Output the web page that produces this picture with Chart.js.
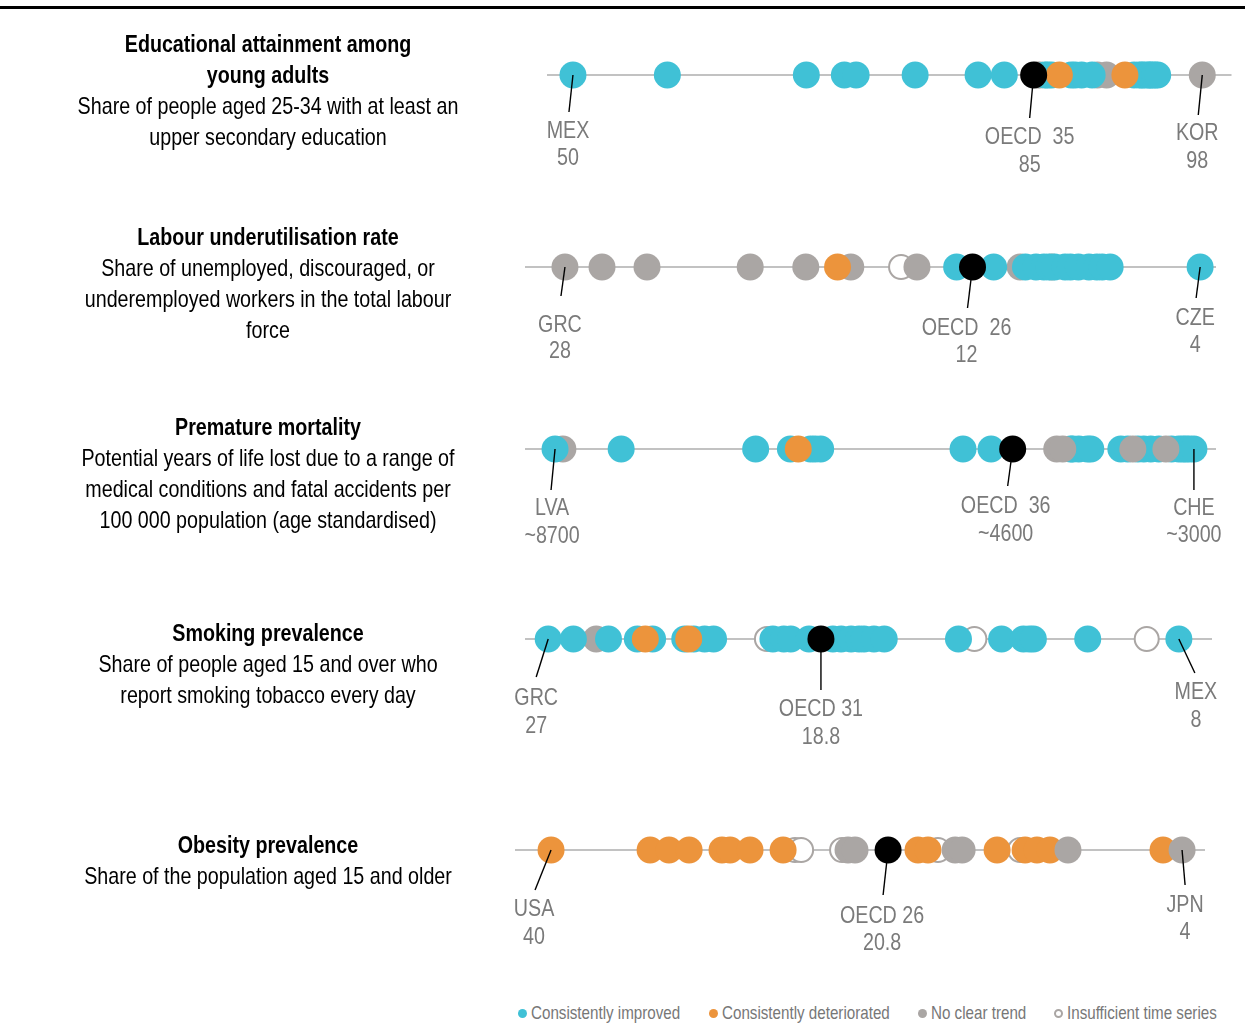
<!DOCTYPE html>
<html>
<head>
<meta charset="utf-8">
<script src="https://cdn.jsdelivr.net/npm/chart.js@4.4.1/dist/chart.umd.min.js"></script>
<style>
  html, body { margin: 0; padding: 0; background: #fff; }
  body { width: 1245px; height: 1034px; position: relative; overflow: hidden;
         font-family: "Liberation Sans", Arial, sans-serif; }
  #topbar { position: absolute; left: 0; top: 6px; width: 1245px; height: 3px; background: #000; }
  canvas.row { position: absolute; left: 0; }
  .desc { position: absolute; left: -32px; width: 600px; text-align: center; font-size: 24px;
          line-height: 31px; color: #000; z-index: 2; transform: scaleX(0.82); transform-origin: 50% 50%; }
  .desc b { font-weight: bold; }
  .dot { position: absolute; top: 1008.5px; width: 9px; height: 9px; border-radius: 50%; box-sizing: border-box; }
  .legt { position: absolute; top: 1002px; height: 22px; line-height: 22px; font-size: 18.5px; color: #777;
          white-space: nowrap; transform: scaleX(0.82); transform-origin: 0 50%; }
</style>
</head>
<body>
<div id="topbar"></div>

<div class="desc" style="top:27.5px"><b>Educational attainment among<br>young adults</b><br>Share of people aged 25-34 with at least an<br>upper secondary education</div>
<div class="desc" style="top:220.5px"><b>Labour underutilisation rate</b><br>Share of unemployed, discouraged, or<br>underemployed workers in the total labour<br>force</div>
<div class="desc" style="top:410.5px"><b>Premature mortality</b><br>Potential years of life lost due to a range of<br>medical conditions and fatal accidents per<br>100 000 population (age standardised)</div>
<div class="desc" style="top:616.5px"><b>Smoking prevalence</b><br>Share of people aged 15 and over who<br>report smoking tobacco every day</div>
<div class="desc" style="top:828.5px"><b>Obesity prevalence</b><br>Share of the population aged 15 and older</div>

<canvas class="row" id="c1" width="1245" height="240"></canvas>
<canvas class="row" id="c2" width="1245" height="240"></canvas>
<canvas class="row" id="c3" width="1245" height="240"></canvas>
<canvas class="row" id="c4" width="1245" height="240"></canvas>
<canvas class="row" id="c5" width="1245" height="240"></canvas>

<div class="dot" style="left:517.5px;background:#40c1d6"></div><div class="legt" style="left:531px">Consistently improved</div>
<div class="dot" style="left:708.5px;background:#ec943c"></div><div class="legt" style="left:722px">Consistently deteriorated</div>
<div class="dot" style="left:917.5px;background:#aaa6a4"></div><div class="legt" style="left:931px">No clear trend</div>
<div class="dot" style="left:1053.5px;border:2px solid #aaa6a4;background:#fff"></div><div class="legt" style="left:1067px">Insufficient time series</div>

<script>
// ---------- DATA (points listed in drawing order) ----------
// Status codes: I = consistently improved, D = consistently deteriorated, N = no clear trend, X = insufficient time series

// Educational attainment among young adults (%)
const eduValues = [85.6, 85.4, 90.0, 90.7, 98.0,
  50.0, 57.2, 67.8, 70.7, 71.6, 76.1, 80.9, 82.9, 86.0, 86.2, 86.5, 88.0, 88.3, 88.8, 89.6,
  92.8, 93.2, 93.4, 93.6, 93.9, 94.0, 94.2, 94.4, 94.6,
  87.1, 92.1];
const eduStatus = ['N','N','N','N','N',
  'I','I','I','I','I','I','I','I','I','I','I','I','I','I','I',
  'I','I','I','I','I','I','I','I','I',
  'D','D'];
const eduOECD = 85.14;
const eduLabelValues = [50.0, 85.14, 98.0];
const eduLabelText = [['MEX','50'], ['OECD  35','85'], ['KOR','98']];

// Labour underutilisation rate (%)
const labValues = [15.3,
  28.0, 26.6, 24.9, 21.0, 18.9, 17.2, 14.7, 10.8, 9.6,
  13.2, 11.8, 10.6, 10.2, 9.9, 9.7, 9.5, 9.1, 8.9, 8.6, 8.2, 7.9, 7.7, 7.4, 4.0,
  17.7];
const labStatus = ['X',
  'N','N','N','N','N','N','N','N','N',
  'I','I','I','I','I','I','I','I','I','I','I','I','I','I','I',
  'D'];
const labOECD = 12.6;
const labLabelValues = [28.0, 12.6, 4.0];
const labLabelText = [['GRC','28'], ['OECD  26','12'], ['CZE','4']];

// Premature mortality (potential years of life lost per 100 000)
const mortValues = [8630,
  8700, 8110, 6910, 6600, 6420, 6380, 6330, 5060, 4810,
  4100, 4081, 4027, 3950, 3920, 3652, 3590, 3500, 3447, 3385, 3313, 3200, 3135, 3100, 3072, 3040, 3000,
  6530,
  4224, 4170, 3545, 3250];
const mortStatus = ['N',
  'I','I','I','I','I','I','I','I','I',
  'I','I','I','I','I','I','I','I','I','I','I','I','I','I','I','I','I',
  'D',
  'N','N','N','N'];
const mortOECD = 4617;
const mortLabelValues = [8700, 4617, 3000];
const mortLabelText = [['LVA','~8700'], ['OECD  36','~4600'], ['CHE','~3000']];

// Smoking prevalence (%)
const smokeValues = [20.4, 14.14, 8.94,
  25.55,
  27.0, 26.24, 25.18, 24.31, 23.85, 22.88, 22.61, 22.28, 22.01, 20.22, 19.89, 19.68, 19.13,
  18.41, 18.16, 17.86, 17.62, 17.47, 17.17, 16.86, 14.62, 13.32, 12.66, 12.48, 12.36, 10.72, 7.97,
  24.07, 22.76];
const smokeStatus = ['X','X','X',
  'N',
  'I','I','I','I','I','I','I','I','I','I','I','I','I',
  'I','I','I','I','I','I','I','I','I','I','I','I','I','I',
  'D','D'];
const smokeOECD = 18.77;
const smokeLabelValues = [27.0, 18.77, 7.97];
const smokeLabelText = [['GRC','27'], ['OECD 31','18.8'], ['MEX','8']];

// Obesity prevalence (%)
const obesValues = [26.06, 25.71, 23.37, 17.89, 13.2,
  40.0, 34.34, 33.26, 32.11, 30.23, 29.77, 28.63, 26.74, 19.03, 18.46, 14.51, 12.91, 12.23, 11.49, 5.03,
  23.03, 22.63, 16.91, 16.51, 10.46, 3.94];
const obesStatus = ['X','X','X','X','X',
  'D','D','D','D','D','D','D','D','D','D','D','D','D','D','D',
  'N','N','N','N','N','N'];
const obesOECD = 20.74;
const obesLabelValues = [40.0, 20.74, 3.94];
const obesLabelText = [['USA','40'], ['OECD 26','20.8'], ['JPN','4']];

// ---------- STYLE / LAYOUT ----------
const FILL = { I: '#40c1d6', D: '#ec943c', N: '#aaa6a4', X: '#ffffff' };
const EDGE = { I: '#40c1d6', D: '#ec943c', N: '#aaa6a4', X: '#aaa6a4' };
const FONT = '"Liberation Sans", Arial, sans-serif';
const NARROW = 0.82;

const rows = [
  { id: 'c1', cy: 75,  lineL: 547, lineR: 1232, min: 48.02, max: 100.23, reverse: false,
    values: eduValues, status: eduStatus, oecd: eduOECD, lv: eduLabelValues, lt: eduLabelText,
    // leader offsets [dx, dy], text x offset, text line y offsets
    lay: [[-4,37,-5,56,83], [-4,43,-4,62,90], [-4,40,-5,58,86]] },
  { id: 'c2', cy: 267, lineL: 525, lineR: 1216, min: 3.40, max: 29.51, reverse: true,
    values: labValues, status: labStatus, oecd: labOECD, lv: labLabelValues, lt: labLabelText,
    lay: [[-4,29,-5,58,84], [-5,41,-6,61,88], [-4,31,-5,51,78]] },
  { id: 'c3', cy: 449, lineL: 525, lineR: 1216, min: 2803, max: 8968, reverse: true,
    values: mortValues, status: mortStatus, oecd: mortOECD, lv: mortLabelValues, lt: mortLabelText,
    lay: [[-4,41,-3,59,87], [-5,37,-7,57,85], [0,41,0,59,86]] },
  { id: 'c4', cy: 639, lineL: 525, lineR: 1212, min: 6.97, max: 27.70, reverse: true,
    values: smokeValues, status: smokeStatus, oecd: smokeOECD, lv: smokeLabelValues, lt: smokeLabelText,
    lay: [[-12,38,-12,59,87], [0,51,0,70,98], [16,34,17,53,81]] },
  { id: 'c5', cy: 850, lineL: 515, lineR: 1205, min: 2.63, max: 42.06, reverse: true,
    values: obesValues, status: obesStatus, oecd: obesOECD, lv: obesLabelValues, lt: obesLabelText,
    lay: [[-16,40,-17,59,87], [-5,45,-6,66,93], [3,35,3,55,82]] }
];

const CANVAS_H = 240;

function narrowText(ctx, text, x, y) {
  ctx.save();
  ctx.translate(x, y);
  ctx.scale(NARROW, 1);
  ctx.fillText(text, 0, 0);
  ctx.restore();
}

rows.forEach(function (r) {
  const canvas = document.getElementById(r.id);
  canvas.style.top = (r.cy - CANVAS_H / 2) + 'px';

  const deco = {
    id: 'rowDeco',
    beforeDatasetsDraw(chart) {
      const ctx = chart.ctx, a = chart.chartArea;
      const y = chart.scales.y.getPixelForValue(0);
      ctx.save();
      ctx.strokeStyle = '#c2c2c2';
      ctx.lineWidth = 2;
      ctx.beginPath();
      ctx.moveTo(a.left, y);
      ctx.lineTo(a.right, y);
      ctx.stroke();
      ctx.restore();
    },
    afterDatasetsDraw(chart) {
      const ctx = chart.ctx;
      const xs = chart.scales.x, ys = chart.scales.y;
      const y0 = ys.getPixelForValue(0);
      ctx.save();
      r.lv.forEach(function (v, i) {
        const px = xs.getPixelForValue(v);
        const L = r.lay[i];
        ctx.strokeStyle = '#000';
        ctx.lineWidth = 1.4;
        ctx.beginPath();
        ctx.moveTo(px, y0);
        ctx.lineTo(px + L[0], y0 + L[1]);
        ctx.stroke();
        ctx.fillStyle = '#7a7a7a';
        ctx.font = '24px ' + FONT;
        ctx.textAlign = 'center';
        ctx.textBaseline = 'middle';
        narrowText(ctx, r.lt[i][0], px + L[2], y0 + L[3]);
        narrowText(ctx, r.lt[i][1], px + L[2], y0 + L[4]);
      });
      ctx.restore();
    }
  };

  new Chart(canvas, {
    type: 'scatter',
    data: {
      datasets: [
        {
          order: 1,
          data: r.values.map(function (v) { return { x: v, y: 0 }; }),
          backgroundColor: r.status.map(function (s) { return FILL[s]; }),
          borderColor: r.status.map(function (s) { return EDGE[s]; }),
          borderWidth: r.status.map(function (s) { return s === 'X' ? 2 : 0; }),
          pointRadius: r.status.map(function (s) { return s === 'X' ? 12 : 13.5; }),
          pointStyle: 'circle',
          clip: false
        },
        {
          order: 0,
          data: [{ x: r.oecd, y: 0 }],
          backgroundColor: '#000000',
          borderColor: '#000000',
          borderWidth: 0,
          pointRadius: 13.5,
          clip: false
        }
      ]
    },
    options: {
      responsive: false,
      animation: false,
      events: [],
      layout: { padding: { left: r.lineL, right: 1245 - r.lineR, top: 0, bottom: 0 } },
      scales: {
        x: { type: 'linear', min: r.min, max: r.max, reverse: r.reverse, display: false },
        y: { type: 'linear', min: -1, max: 1, display: false }
      },
      plugins: { legend: { display: false }, tooltip: { enabled: false } }
    },
    plugins: [deco]
  });
});
</script>
</body>
</html>
